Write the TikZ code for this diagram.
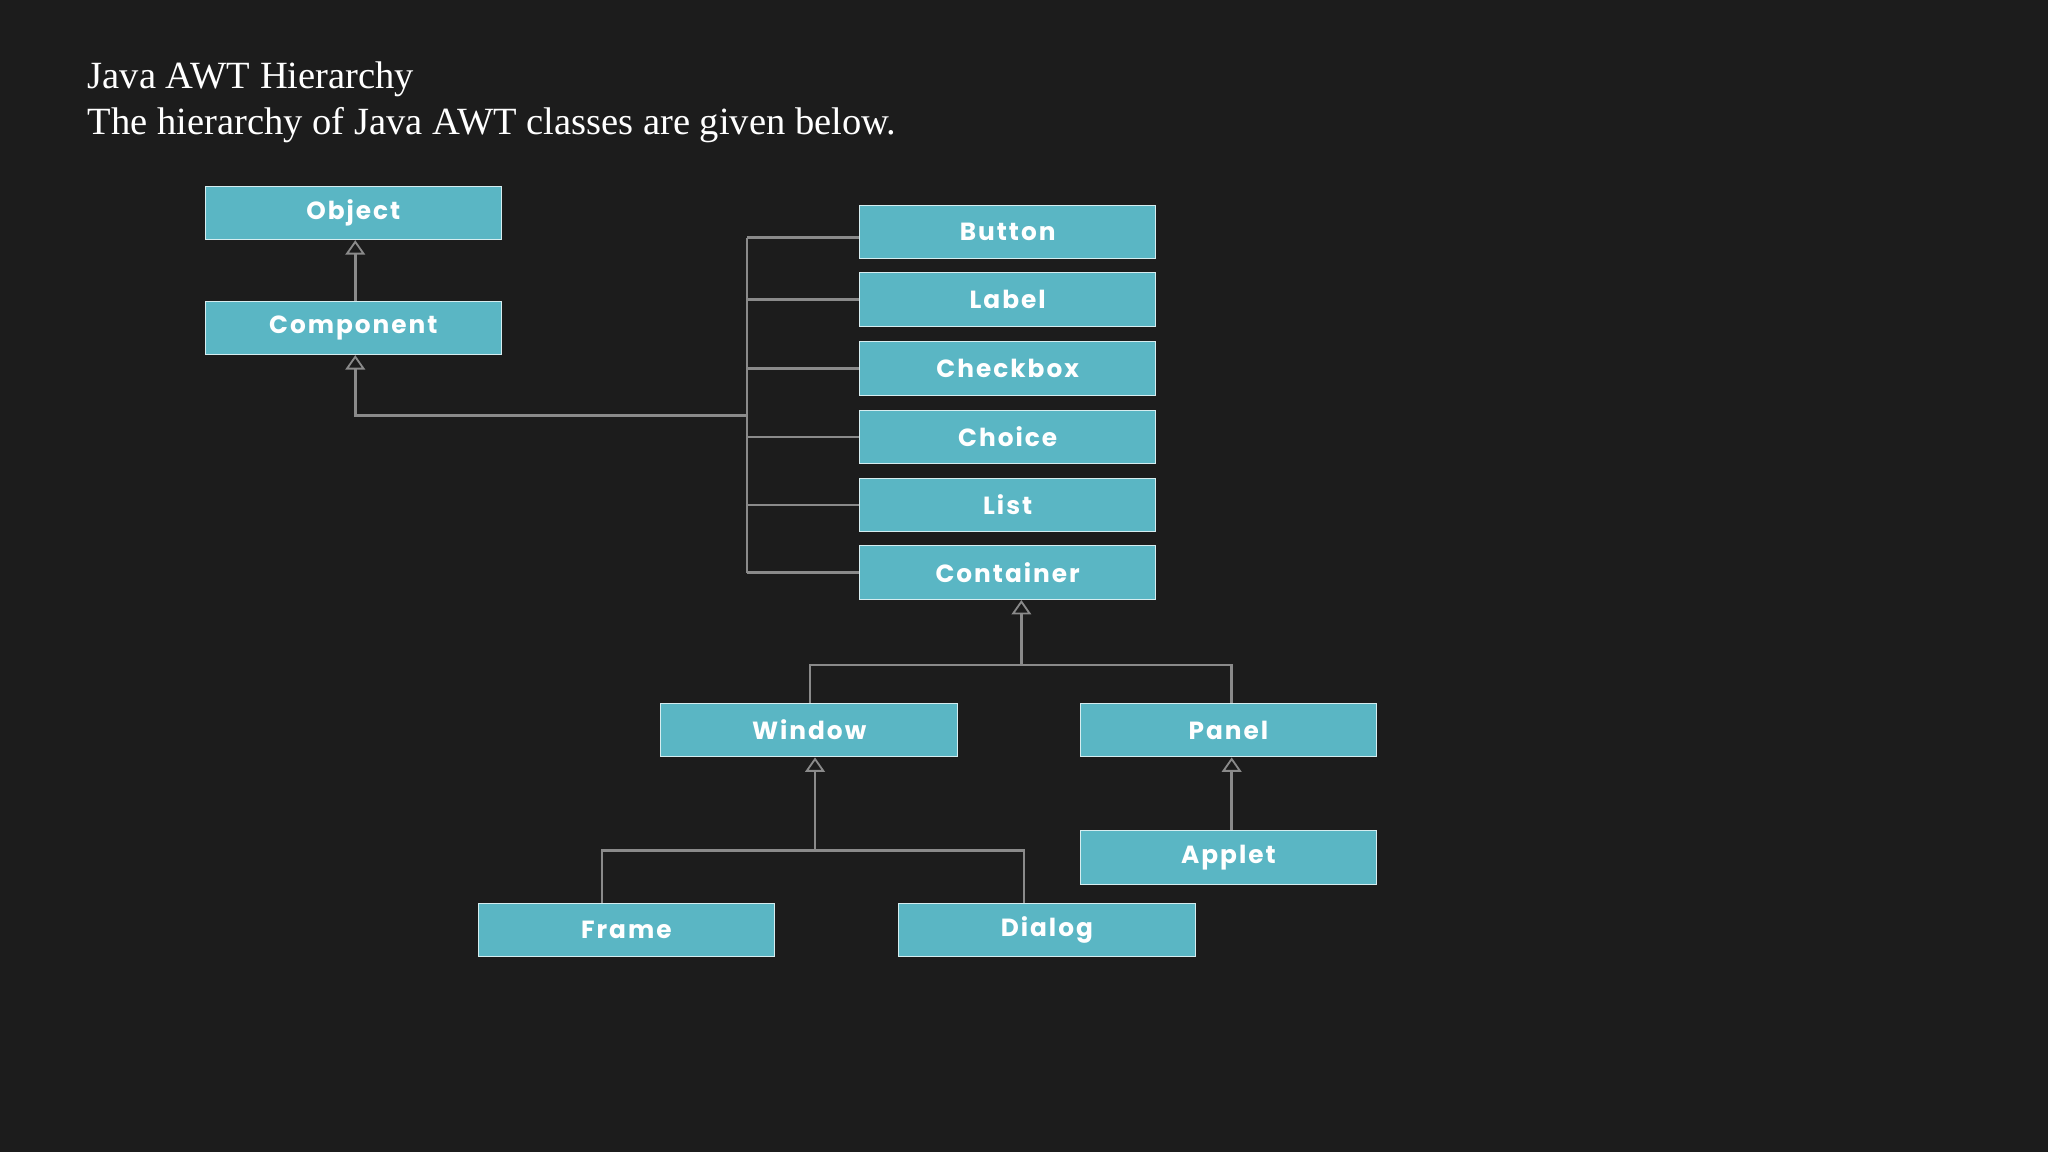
\documentclass[tikz,border=0pt]{standalone}
\usepackage{fontspec}
\setmainfont{Liberation Serif}
\newfontfamily\boxfont[LetterSpace=8]{Poppins}
\usetikzlibrary{arrows.meta}
\definecolor{bgc}{HTML}{1C1C1C}
\definecolor{boxc}{HTML}{5AB6C4}
\definecolor{linec}{HTML}{8A8A8A}
\begin{document}
\begin{tikzpicture}[x=1pt,y=-1pt,
  cls/.style={draw=white!75!boxc,line width=0.8pt,fill=boxc,minimum width=227pt,minimum height=41pt,inner sep=0pt,text=white,font=\boxfont\bfseries\fontsize{19}{19}\selectfont},
  conn/.style={draw=linec,line width=2pt},
  inh/.style={conn,-{Triangle[open,length=11pt,width=15pt,fill=bgc,line width=1.4pt]}}]
\fill[bgc] (0,0) rectangle (1568,882);
\useasboundingbox (0,0) rectangle (1568,882);
\node[anchor=base west,text=white,font=\fontsize{29.5}{29.5}\selectfont,inner sep=0pt] (t1) at (67,68) {Java AWT Hierarchy};
\node[anchor=base west,text=white,font=\fontsize{29.5}{29.5}\selectfont,inner sep=0pt] (t2) at (67,103) {The hierarchy of Java AWT classes are given below.};
\node[cls] (object) at (270.5,163) {Object};
\node[cls] (component) at (270.5,251) {Component};
\node[cls] (button) at (771.5,177.5) {Button};
\node[cls] (label) at (771.5,229.5) {Label};
\node[cls] (checkbox) at (771.5,282) {Checkbox};
\node[cls] (choice) at (771.5,334.5) {Choice};
\node[cls] (list) at (771.5,386.5) {List};
\node[cls] (container) at (771.5,438.5) {Container};
\node[cls] (window) at (619.5,559) {Window};
\node[cls] (panel) at (940.5,559) {Panel};
\node[cls] (applet) at (940.5,656.5) {Applet};
\node[cls] (frame) at (479.5,712) {Frame};
\node[cls] (dialog) at (801.5,712) {Dialog};
\coordinate (bt) at (572,182);
\coordinate (bb) at (572,438.5);
\coordinate (bm) at (572,318);
\coordinate (cj) at (782,509);
\coordinate (wj) at (624,651);
\draw[inh] (component.north -| 272,0) -- (object.south -| 272,0);
\draw[conn] (bt) -- (bb);
\draw[conn] (bt) -- (button.west |- bt);
\foreach \n in {label,checkbox,choice,list,container}{\draw[conn] (bt |- \n.west) -- (\n.west);}
\draw[inh] (bm) -| (component.south -| 272,0);
\draw[inh] (cj) -- (container.south -| cj);
\draw[conn] (window.north -| 620,0) |- (cj) -| (panel.north -| 943,0);
\draw[inh] (wj) -- (window.south -| wj);
\draw[conn] (frame.north -| 461,0) |- (wj) -| (dialog.north -| 784,0);
\draw[inh] (applet.north -| 943,0) -- (panel.south -| 943,0);
\end{tikzpicture}
\end{document}
